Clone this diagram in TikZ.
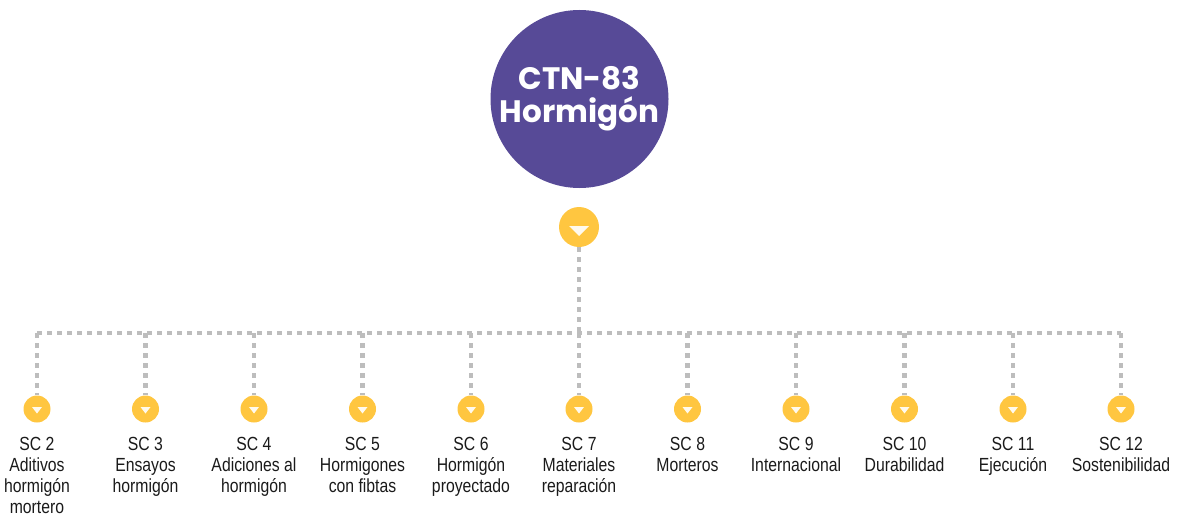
\documentclass[tikz,border=0pt]{standalone}
\usepackage{fontspec}
\setmainfont{Liberation Sans}[FakeStretch=0.83]
\newfontfamily\titlefont{Poppins}
\definecolor{ctnpurple}{HTML}{574A97}
\definecolor{ctnyellow}{HTML}{FFC640}
\definecolor{dotgray}{HTML}{BDBDBD}
\definecolor{trifill}{HTML}{FFFAEE}
\definecolor{lbltext}{HTML}{1A1A1A}
\tikzset{
  x=1pt, y=1pt,
  dotline/.style={draw=dotgray, line width=4.5pt, dash pattern=on 4.5pt off 5.5pt},
  bigdot/.style={circle, fill=ctnyellow, minimum size=40pt, inner sep=0pt},
  smalldot/.style={circle, fill=ctnyellow, minimum size=27pt, inner sep=0pt},
  lbl/.style={align=center, anchor=north, inner sep=0pt, text=lbltext,
    font=\fontsize{19}{20.7}\selectfont},
  titlecircle/.style={circle, fill=ctnpurple, minimum size=178pt, inner sep=0pt,
    text=white, align=center, font=\titlefont\bfseries\fontsize{31}{33}\selectfont},
  smalltri/.pic={\fill[trifill] (-5,2) -- (5,2) -- (0,-4.5) -- cycle;},
  bigtri/.pic={\fill[trifill] (-10,1) -- (10,1) -- (0,-9) -- cycle;}
}
\begin{document}
\begin{tikzpicture}
\useasboundingbox (0,0) rectangle (1177,-516);
\node[titlecircle] (ctn) at (579.5,-99) {CTN-83\\Hormigón};
\node[bigdot] (top) at (579,-227) {};
\pic at (top) {bigtri};
\coordinate (hub) at (579,-333);
\draw[dotline] (top.south) -- (hub);
\foreach \i/\x in {1/37,2/145.5,3/254,4/362.5,5/471,6/579,7/687.5,8/796,9/904.5,10/1013,11/1121}{
  \coordinate (h\i) at (\x,-333);
  \node[smalldot] (d\i) at (\x,-409) {};
  \pic at (d\i) {smalltri};
}
\draw[dotline] (h1) -- (h11);
\foreach \i in {1,...,11}{
  \draw[dotline] (h\i) -- (d\i.north);
}
\node[lbl] (t1) at (37,-437.5) {SC 2\\Aditivos\\hormigón\\mortero};
\node[lbl] (t2) at (145.5,-437.5) {SC 3\\Ensayos\\hormigón};
\node[lbl] (t3) at (254,-437.5) {SC 4\\Adiciones al\\hormigón};
\node[lbl] (t4) at (362.5,-437.5) {SC 5\\Hormigones\\con fibtas};
\node[lbl] (t5) at (471,-437.5) {SC 6\\Hormigón\\proyectado};
\node[lbl] (t6) at (579,-437.5) {SC 7\\Materiales\\reparación};
\node[lbl] (t7) at (687.5,-437.5) {SC 8\\Morteros};
\node[lbl] (t8) at (796,-437.5) {SC 9\\Internacional};
\node[lbl] (t9) at (904.5,-437.5) {SC 10\\Durabilidad};
\node[lbl] (t10) at (1013,-437.5) {SC 11\\Ejecución};
\node[lbl] (t11) at (1121,-437.5) {SC 12\\Sostenibilidad};
\end{tikzpicture}
\end{document}
